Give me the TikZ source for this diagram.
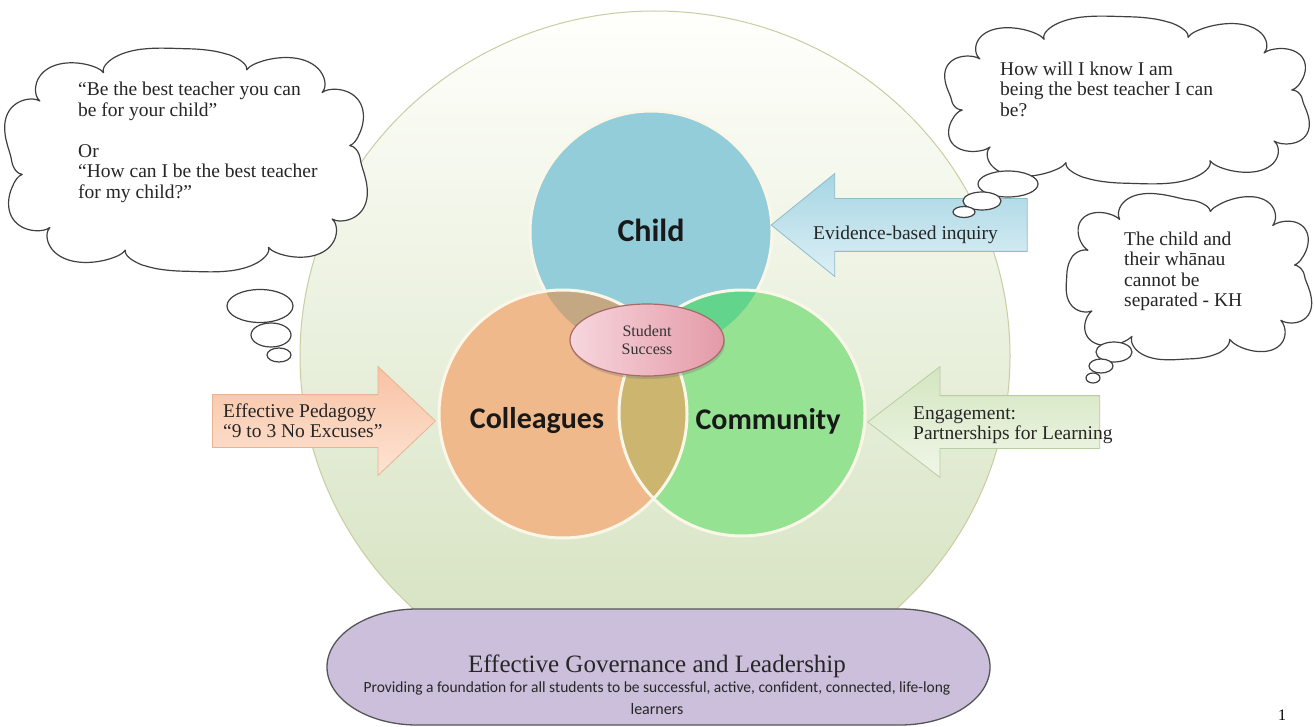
\documentclass[tikz,border=0pt]{standalone}
\usepackage{fontspec}
\setmainfont{Liberation Serif}
\newfontfamily\calibri{Carlito}
\usetikzlibrary{shapes,positioning,arrows,calc,shadows}

\definecolor{ringtop}{HTML}{FFFFFC}
\definecolor{ringbot}{HTML}{D2E0BC}
\definecolor{ringline}{HTML}{C9CDA2}
\definecolor{childblue}{HTML}{93CDD9}
\definecolor{colpeach}{HTML}{F0B98B}
\definecolor{comgreen}{HTML}{95E292}
\definecolor{chcol}{HTML}{C4A783}
\definecolor{chcom}{HTML}{63D48C}
\definecolor{colcom}{HTML}{CCB56E}
\definecolor{vennline}{HTML}{FBF7E8}
\definecolor{pinklt}{HTML}{F7D6DD}
\definecolor{pinkdk}{HTML}{E49AA8}
\definecolor{pinkline}{HTML}{A86A66}
\definecolor{bluetop}{HTML}{A6D5E3}
\definecolor{bluebot}{HTML}{DDF0F5}
\definecolor{blueline}{HTML}{8DBCCB}
\definecolor{peachtop}{HTML}{F8C2A3}
\definecolor{peachbot}{HTML}{FDE4D4}
\definecolor{peachline}{HTML}{E7B393}
\definecolor{leaftop}{HTML}{D4E6C0}
\definecolor{leafbot}{HTML}{F0F6E8}
\definecolor{leafline}{HTML}{B9CDA3}
\definecolor{govpurple}{HTML}{CBBFDB}
\definecolor{govline}{HTML}{555555}

% cloud outline: centre x, centre y, half width, half height, number of puffs / 2
\newcommand{\thoughtcloud}[5]{%
  \draw[thoughtline] plot[domain=0:360, samples=721, variable=\t]
    ({#1+(#3-20+20*pow(abs(sin(#5*\t+20))+0.00001,0.6))*(cos(\t)<0 ? -1 : 1)*pow(abs(cos(\t))+0.00001,0.7)},
     {#2+(#4-20+20*pow(abs(sin(#5*\t+20))+0.00001,0.6))*(sin(\t)<0 ? -1 : 1)*pow(abs(sin(\t))+0.00001,0.7)}) -- cycle;}

\begin{document}
\begin{tikzpicture}[x=1pt,y=-1pt]
      \tikzstyle{venn}=[circle, inner sep=0pt];
      \tikzstyle{vennlbl}=[font=\calibri\bfseries\fontsize{30}{36}\selectfont, text=black!90];
      \tikzstyle{thoughtline}=[draw=black!75, fill=white, line width=1.2pt, line join=round];
      \tikzstyle{puff}=[ellipse, draw=black!75, fill=white, line width=1.2pt, inner sep=0pt];
      \tikzstyle{say}=[font=\fontsize{19.5}{20.5}\selectfont, align=left, inner sep=0pt, anchor=north west, text=black!85];
      \tikzstyle{blockarrow}=[single arrow, inner xsep=0pt, inner ysep=26pt, line width=0.8pt];
      \tikzstyle{armtext}=[font=\fontsize{19.5}{20.5}\selectfont, align=left, inner sep=0pt, anchor=north west, text=black!85];

      \useasboundingbox (0,0) rectangle (1314,727);
      \fill[white] (0,0) rectangle (1314,727);

      % outer ring
      \begin{scope}
        \clip (0,0) rectangle (1314,609);
        \node (ring) at (655,356) [ellipse, minimum width=710pt, minimum height=690pt, draw=ringline, line width=1pt, top color=ringtop, bottom color=ringbot] {};
      \end{scope}

      % the three circles
      \node (child) at (651,232) [venn, minimum size=242pt, fill=childblue, draw=vennline, line width=3pt] {};
      \node (coll) at (563,414) [venn, minimum size=248pt, fill=colpeach] {};
      \node (comm) at (742,413) [venn, minimum size=246pt, fill=comgreen] {};

      \begin{scope}
        \clip (child.center) circle[radius=121pt];
        \fill[chcol] (coll.center) circle[radius=124pt];
        \fill[chcom] (comm.center) circle[radius=123pt];
      \end{scope}
      \begin{scope}
        \clip (coll.center) circle[radius=124pt];
        \fill[colcom] (comm.center) circle[radius=123pt];
      \end{scope}
      \draw[vennline, line width=3pt] (coll.center) circle[radius=124pt];
      \draw[vennline, line width=3pt] (comm.center) circle[radius=123pt];

      \node (childlbl) [vennlbl, font=\calibri\bfseries\fontsize{32}{36}\selectfont] at (651,230) {Child};
      \node (colllbl) [vennlbl] at (537,421) {Colleagues};
      \node (commlbl) [vennlbl] at (768,421) {Community};

      \node (success) at (647,340) [ellipse, minimum width=154pt, minimum height=72pt, left color=pinklt, right color=pinkdk, draw=pinkline, line width=1.2pt, drop shadow={shadow xshift=1pt, shadow yshift=-3pt, opacity=0.35}, font=\fontsize{16}{18.5}\selectfont, align=center, text=black!80] {Student\\Success};

      % arrows
      \node (evid) at (915.5,225) [blockarrow, shape border rotate=180, minimum height=256pt, single arrow head extend=25pt, single arrow tip angle=78, top color=bluetop, bottom color=bluebot, draw=blueline] {};
      \node (evidtxt) [armtext] at (813,225.5) {Evidence-based inquiry};

      \node (peda) at (310,421) [blockarrow, minimum height=223pt, single arrow head extend=28pt, single arrow tip angle=87, top color=peachtop, bottom color=peachbot, draw=peachline] {};
      \node (pedatxt) [armtext] at (223,403.5) {Effective Pedagogy\\“9 to 3 No Excuses”};

      \node (engage) at (1001,422) [blockarrow, shape border rotate=180, minimum height=232pt, single arrow head extend=29pt, single arrow tip angle=75, top color=leaftop, bottom color=leafbot, draw=leafline] {};
      \node (engagetxt) [armtext] at (913,406.5) {Engagement:\\Partnerships for Learning};

      % thought clouds
      \thoughtcloud{186}{160}{184}{112}{5}
      \node (puffL1) at (260,306) [puff, minimum width=66pt, minimum height=33pt] {};
      \node (puffL2) at (271,335) [puff, minimum width=40pt, minimum height=24pt] {};
      \node (puffL3) at (279,355) [puff, minimum width=24pt, minimum height=14pt] {};
      \node (sayL) [say] at (78,82) {“Be the best teacher you can\\be for your child”\\[20.5pt]Or\\“How can I be the best teacher\\for my child?”};

      \thoughtcloud{1127}{100}{185}{84}{5}
      \node (puffR1) at (1008,184) [puff, minimum width=60pt, minimum height=26pt] {};
      \node (puffR2) at (982,201) [puff, minimum width=38pt, minimum height=18pt] {};
      \node (puffR3) at (964,212) [puff, minimum width=22pt, minimum height=11pt] {};
      \node (sayR) [say] at (1000,61.5) {How will I know I am\\being the best teacher I can\\be?};

      \thoughtcloud{1190}{276}{124}{84}{4.5}
      \node (puffK1) at (1114,352) [puff, minimum width=36pt, minimum height=20pt] {};
      \node (puffK2) at (1101,366) [puff, minimum width=24pt, minimum height=14pt] {};
      \node (puffK3) at (1093,378) [puff, minimum width=14pt, minimum height=10pt] {};
      \node (sayK) [say] at (1124,231.5) {The child and\\their whānau\\cannot be\\separated - KH};

      % foundation
      \draw[govline, line width=1.3pt, fill=govpurple] (417,609) -- (900,609)
        arc[start angle=90, end angle=-90, x radius=90pt, y radius=58pt]
        -- (417,725)
        arc[start angle=270, end angle=90, x radius=90pt, y radius=58pt] -- cycle;
      \node (gov) at (657,666) [font=\fontsize{25}{27}\selectfont, text=black!85] {Effective Governance and Leadership};
      \node (govsub) at (657,688) [font=\calibri\fontsize{15.5}{17}\selectfont, text=black!85] {Providing a foundation for all students to be successful, active, confident, connected, life-long};
      \node (govend) at (657,709) [font=\calibri\fontsize{16}{18}\selectfont, text=black!85] {learners};

      \node (pageno) at (1282,715) [font=\fontsize{16}{18}\selectfont] {1};
\end{tikzpicture}
\end{document}
